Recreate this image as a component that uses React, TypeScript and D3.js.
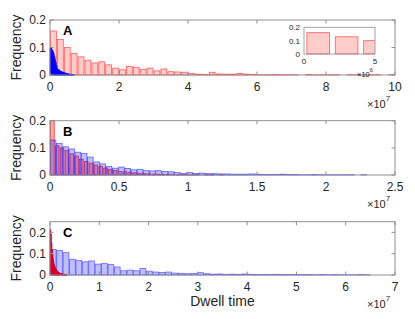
import * as d3 from "d3";

// histogram frequencies (probability per bin)
const aRedBin = 2e6;
const aRedFreq = [0.16, 0.129, 0.1, 0.079, 0.066, 0.054, 0.044, 0.048, 0.037, 0.025, 0.019, 0.031, 0.028, 0.021, 0.025, 0.015, 0.022, 0.012, 0.011, 0.01, 0.006, 0.003, 0.002, 0.01, 0.004, 0.003, 0.003, 0.006, 0.003, 0.002, 0.001, 0.001, 0.002, 0.001, 0.001, 0.001, 0, 0.002, 0.001, 0.001, 0.001, 0.001, 0, 0.001, 0.001, 0.001, 0.001, 0.001, 0, 0.001];
const aBlueBin = 2e5;
const aBlueFreq = [0.098, 0.097, 0.094, 0.09, 0.085, 0.078, 0.068, 0.058, 0.045, 0.033, 0.025, 0.021, 0.019, 0.017, 0.015, 0.013, 0.012, 0.011, 0.01, 0.009, 0.008, 0.007, 0.007, 0.006, 0.005, 0.004, 0.004, 0.003, 0.003, 0.002, 0.002, 0.002, 0.001, 0.001, 0.001];

const bRedBin = 3.5e5;
const bRedFreq = [0.2, 0.108, 0.1, 0.09, 0.078, 0.07, 0.058, 0.05, 0.044, 0.037, 0.031, 0.026, 0.021, 0.017, 0.013, 0.012, 0.01, 0.008, 0.006, 0.005, 0.004, 0.003, 0.003, 0.002, 0.002, 0.001, 0.001, 0.001, 0.001, 0.001, 0.001, 0, 0.001, 0.001, 0, 0.001];
const bBlueBin = 4.5e5;
const bBlueFreq = [0.129, 0.116, 0.104, 0.096, 0.084, 0.079, 0.066, 0.048, 0.041, 0.031, 0.025, 0.029, 0.024, 0.019, 0.021, 0.016, 0.015, 0.016, 0.013, 0.012, 0.009, 0.006, 0.009, 0.006, 0.007, 0.005, 0.005, 0.004, 0.004, 0.003, 0.003, 0.003, 0.004, 0.003, 0.002, 0.002, 0.002, 0.003, 0.002, 0.002, 0.001, 0.001, 0.002, 0.001, 0.001, 0.001, 0.001, 0.001, 0.001, 0, 0.001];

const cBlueBin = 1.3e6;
const cBlueFreq = [0.12, 0.115, 0.105, 0.074, 0.069, 0.062, 0.066, 0.051, 0.054, 0.049, 0.038, 0.02, 0.023, 0.02, 0.031, 0.018, 0.014, 0.012, 0.014, 0.009, 0.008, 0.006, 0.007, 0.011, 0.006, 0.004, 0.005, 0.003, 0.004, 0.003, 0.005, 0.003, 0.002, 0.003, 0.002, 0.003, 0.002, 0.002, 0.003, 0.002, 0.002, 0.001, 0.002, 0.001, 0.002, 0.001, 0.001, 0.001, 0.002, 0.001];
const cRedBin = 1e5;
const cRedFreq = [0.215, 0.21, 0.19, 0.15, 0.12, 0.095, 0.078, 0.062, 0.05, 0.042, 0.035, 0.03, 0.026, 0.022, 0.019, 0.016, 0.014, 0.012, 0.01, 0.009, 0.008, 0.007, 0.006, 0.005, 0.005, 0.004, 0.004, 0.003, 0.003, 0.002, 0.002, 0.002, 0.001, 0.001];

// tick labels (x in units of 1e7)
const aTicks = [0, 2, 4, 6, 8, 10];
const bTicks = [0, 0.5, 1, 1.5, 2, 2.5];
const cTicks = [0, 1, 2, 3, 4, 5, 6, 7];
const yTicks = [0, 0.1, 0.2];
const insetXTicks = [0, 5]; // x 1e6

const font = "'Liberation Sans', Arial, Helvetica, sans-serif";
const axisColor = "#8f8f8f";
const textColor = "#262626";
const left = 50;
const right = 395;

type Series = {
  freq: number[];
  bin: number;
  widthFrac: number;
  fill: string;
  fillOpacity: number;
  stroke: string;
  strokeOpacity: number;
};

const Bars = ({ s, x, y }: { s: Series; x: any; y: any }) => (
  <g>
    {s.freq.map((f, i) => {
      const x0 = x(i * s.bin + (s.bin * (1 - s.widthFrac)) / 2);
      const x1 = x(i * s.bin + (s.bin * (1 + s.widthFrac)) / 2);
      return (
        <rect
          key={i}
          x={x0}
          y={y(f)}
          width={Math.max(x1 - x0, 0.3)}
          height={y(0) - y(f)}
          fill={s.fill}
          fillOpacity={s.fillOpacity}
          stroke={s.stroke}
          strokeOpacity={s.strokeOpacity}
          strokeWidth={0.8}
        />
      );
    })}
  </g>
);

const Panel = ({ top, bottom, yMax, xMax, ticks, label, series, children }: any) => {
  const x = d3.scaleLinear().domain([0, xMax]).range([left, right]);
  const y = d3.scaleLinear().domain([0, yMax]).range([bottom, top]);
  const fmt = d3.format("~g");
  return (
    <g>
      {series.map((s: Series, i: number) => (
        <Bars key={i} s={s} x={x} y={y} />
      ))}
      {/* box and ticks */}
      <rect x={left} y={top} width={right - left} height={bottom - top} fill="none" stroke={axisColor} strokeWidth={1} />
      {ticks.map((t: number) => (
        <g key={t}>
          <line x1={x(t * 1e7)} x2={x(t * 1e7)} y1={bottom} y2={bottom - 3.5} stroke={axisColor} />
          <line x1={x(t * 1e7)} x2={x(t * 1e7)} y1={top} y2={top + 3.5} stroke={axisColor} />
          <text x={x(t * 1e7)} y={bottom + 15.5} textAnchor="middle" fontSize={12} fill={textColor}>
            {fmt(t)}
          </text>
        </g>
      ))}
      {yTicks.map((t) => (
        <g key={t}>
          <line x1={left} x2={left + 3.5} y1={y(t)} y2={y(t)} stroke={axisColor} />
          <line x1={right} x2={right - 3.5} y1={y(t)} y2={y(t)} stroke={axisColor} />
          <text x={left - 4} y={y(t) + 4.3} textAnchor="end" fontSize={12} fill={textColor}>
            {fmt(t)}
          </text>
        </g>
      ))}
      <text x={367} y={bottom + 33} fontSize={11} fill={textColor}>
        ×10<tspan fontSize={8} dy={-7}>7</tspan>
      </text>
      <text x={63} y={top + 15} fontSize={13} fontWeight="bold" fill="#000">
        {label}
      </text>
      <text
        transform={`translate(21,${(top + bottom) / 2}) rotate(-90)`}
        textAnchor="middle"
        fontSize={14}
        fill={textColor}
      >
        Frequency
      </text>
      {children}
    </g>
  );
};

const Inset = () => {
  const x = d3.scaleLinear().domain([0, 5e6]).range([304, 375]);
  const y = d3.scaleLinear().domain([0, 0.2]).range([54, 27.3]);
  const s: Series = {
    freq: aRedFreq.slice(0, 3),
    bin: aRedBin,
    widthFrac: 0.8,
    fill: "#ff0000",
    fillOpacity: 0.2,
    stroke: "#ff0000",
    strokeOpacity: 0.6,
  };
  return (
    <g>
      <defs>
        <clipPath id="inset-clip">
          <rect x={304} y={20} width={71} height={35} />
        </clipPath>
      </defs>
      <rect x={304} y={27.3} width={71} height={26.7} fill="#fff" />
      <g clipPath="url(#inset-clip)">
        <Bars s={s} x={x} y={y} />
      </g>
      <rect x={304} y={27.3} width={71} height={26.7} fill="none" stroke={axisColor} strokeWidth={0.8} />
      {yTicks.map((t) => (
        <text key={t} x={300} y={y(t) + 3} textAnchor="end" fontSize={8} fill={textColor}>
          {d3.format("~g")(t)}
        </text>
      ))}
      {insetXTicks.map((t) => (
        <text key={t} x={x(t * 1e6)} y={64} textAnchor="middle" fontSize={8} fill={textColor}>
          {t}
        </text>
      ))}
      <text x={357} y={77} fontSize={7.5} fill={textColor}>
        ×10<tspan fontSize={5.5} dy={-5}>6</tspan>
      </text>
    </g>
  );
};

const App = () => {
  const aSeries: Series[] = [
    { freq: aRedFreq, bin: aRedBin, widthFrac: 0.85, fill: "#ff0000", fillOpacity: 0.2, stroke: "#ff0000", strokeOpacity: 0.6 },
    { freq: aBlueFreq, bin: aBlueBin, widthFrac: 1, fill: "#0000ff", fillOpacity: 1, stroke: "#0000ff", strokeOpacity: 0.9 },
  ];
  const bSeries: Series[] = [
    { freq: bRedFreq, bin: bRedBin, widthFrac: 0.75, fill: "#ff0000", fillOpacity: 0.35, stroke: "#ff0000", strokeOpacity: 0.75 },
    { freq: bBlueFreq, bin: bBlueBin, widthFrac: 0.9, fill: "#0000ff", fillOpacity: 0.25, stroke: "#2a2aff", strokeOpacity: 0.7 },
  ];
  const cSeries: Series[] = [
    { freq: cBlueFreq, bin: cBlueBin, widthFrac: 0.9, fill: "#0000ff", fillOpacity: 0.25, stroke: "#2a2aff", strokeOpacity: 0.65 },
    { freq: cRedFreq, bin: cRedBin, widthFrac: 1, fill: "#d8002a", fillOpacity: 0.95, stroke: "#d8002a", strokeOpacity: 0.9 },
  ];
  return (
    <svg
      width={415}
      height={319}
      style={{ position: "absolute", left: 0, top: 0, background: "#fff" }}
      fontFamily={font}
    >
      <rect width={415} height={319} fill="#fff" />
      <Panel top={20} bottom={75} yMax={0.2} xMax={1e8} ticks={aTicks} label="A" series={aSeries}>
        <Inset />
      </Panel>
      <Panel top={120.7} bottom={175} yMax={0.2} xMax={2.5e7} ticks={bTicks} label="B" series={bSeries} />
      <Panel top={221.7} bottom={275} yMax={0.25} xMax={7e7} ticks={cTicks} label="C" series={cSeries} />
      <text x={(left + right) / 2} y={306} textAnchor="middle" fontSize={14} fill={textColor}>
        Dwell time
      </text>
    </svg>
  );
};

export default App;
